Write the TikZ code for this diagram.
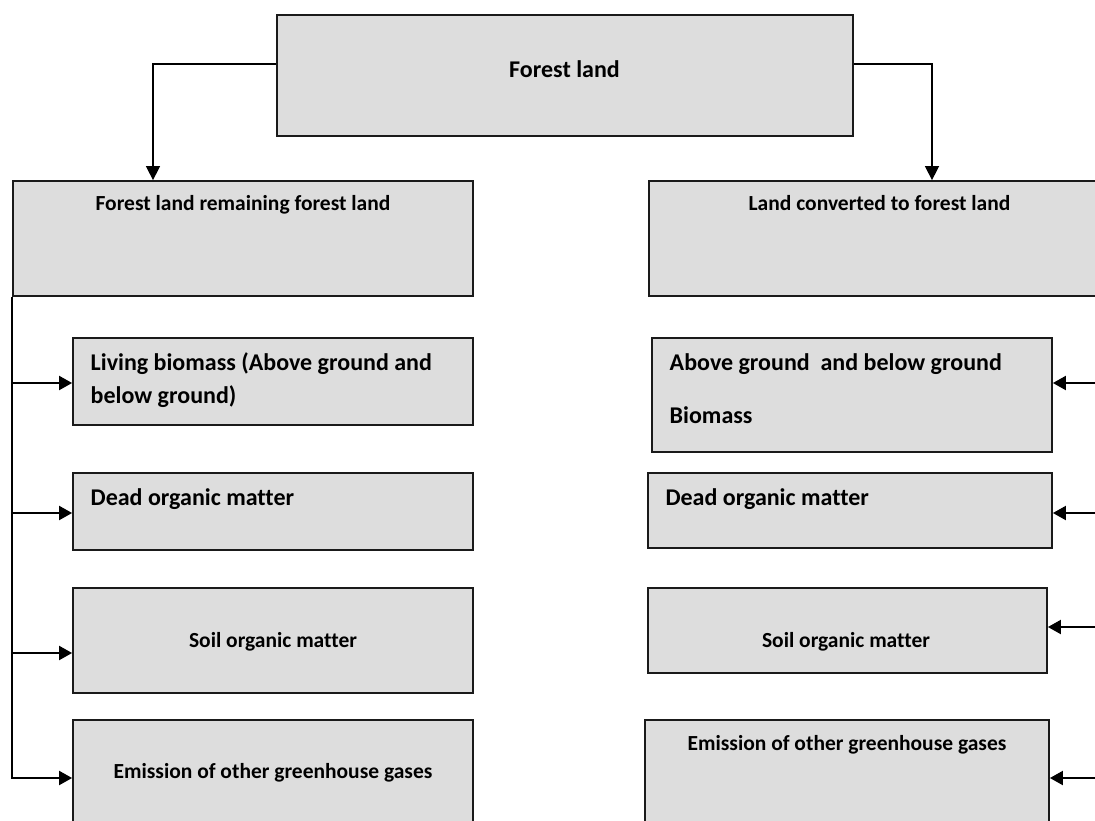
\documentclass[tikz,border=0pt]{standalone}
\usepackage{fontspec}
\setmainfont{Carlito}[Ligatures=NoCommon]
\usetikzlibrary{arrows.meta}
\definecolor{boxfill}{HTML}{DDDDDD}
\definecolor{boxline}{HTML}{1A1A1A}
\tikzset{
  box/.style={draw=boxline, line width=1.8pt, fill=boxfill, rectangle, inner sep=0pt},
  topconn/.style={line width=1.5pt, -{Triangle[length=14pt,width=14pt]}},
  sideconn/.style={line width=2pt, -{Triangle[length=13pt,width=14pt]}},
  lbl/.style={inner sep=0pt, font=\bfseries\fontsize{21.5}{25}\selectfont},
  lblbig/.style={inner sep=0pt, font=\bfseries\fontsize{24}{28}\selectfont},
}
\begin{document}
\begin{tikzpicture}[x=1pt, y=-1pt]
\useasboundingbox (0,0) rectangle (1095,820);
\fill[white] (0,0) rectangle (1095,820);
\clip (0,0) rectangle (1095,820);

% boxes
\node[box, minimum width=576pt, minimum height=121pt] (top) at (565,75.5) {};
\node[box, minimum width=460pt, minimum height=115pt] (L0) at (243,238.5) {};
\node[box, minimum width=461pt, minimum height=115pt] (R0) at (879.5,238.5) {};
\node[box, minimum width=400pt, minimum height=87pt] (B1) at (273,381.5) {};
\node[box, minimum width=400pt, minimum height=77pt] (B2) at (273,511.5) {};
\node[box, minimum width=400pt, minimum height=105pt] (B3) at (273,640.5) {};
\node[box, minimum width=400pt, minimum height=116pt] (B4) at (273,778) {};
\node[box, minimum width=400pt, minimum height=114pt] (RB1) at (852,395) {};
\node[box, minimum width=404pt, minimum height=75pt] (RB2) at (850,510.5) {};
\node[box, minimum width=399pt, minimum height=85pt] (RB3) at (847.5,630.5) {};
\node[box, minimum width=404pt, minimum height=116pt] (RB4) at (847,778) {};

% texts
\node[lblbig, anchor=base] (t-top) at (564.5,77) {Forest land};
\node[lbl, anchor=base] (t-L0) at (243,210) {Forest land remaining forest land};
\node[lbl, anchor=base] (t-R0) at (879.5,210) {Land converted to forest land};
\node[lblbig, anchor=base west] (t-B1a) at (90.5,370) {Living biomass (Above ground and};
\node[lblbig, anchor=base west] (t-B1b) at (90.5,403) {below ground)};
\node[lblbig, anchor=base west] (t-B2) at (90.5,505) {Dead organic matter};
\node[lbl, anchor=base] (t-B3) at (273,647) {Soil organic matter};
\node[lbl, anchor=base] (t-B4) at (273,778) {Emission of other greenhouse gases};
\node[lblbig, anchor=base west] (t-RB1a) at (669.5,370) {Above ground\ \ and below ground};
\node[lblbig, anchor=base west] (t-RB1b) at (669.5,423) {Biomass};
\node[lblbig, anchor=base west] (t-RB2) at (665.3,505) {Dead organic matter};
\node[lbl, anchor=base] (t-RB3) at (846,647) {Soil organic matter};
\node[lbl, anchor=base] (t-RB4) at (847,750) {Emission of other greenhouse gases};

% top connectors
\draw[topconn] ([yshift=11.5pt]top.west) -| ([xshift=-90pt]L0.north);
\draw[topconn] ([yshift=11.5pt]top.east) -| ([xshift=52.5pt]R0.north);

% left side
\coordinate (a1) at ([yshift=-1.5pt]B1.west);
\coordinate (a2) at ([yshift=-1.5pt]B2.west);
\coordinate (a3) at ([yshift=-12.5pt]B3.west);
\draw[sideconn] (L0.south west) |- (B4.west);
\draw[sideconn] (L0.south west |- a1) -- (a1);
\draw[sideconn] (L0.south west |- a2) -- (a2);
\draw[sideconn] (L0.south west |- a3) -- (a3);

% right side
\coordinate (b1) at ([yshift=12pt]RB1.east);
\coordinate (b2) at ([yshift=-2.5pt]RB2.east);
\coordinate (b3) at ([yshift=3.5pt]RB3.east);
\draw[sideconn] (R0.south east) |- (RB4.east);
\draw[sideconn] (R0.south east |- b1) -- (b1);
\draw[sideconn] (R0.south east |- b2) -- (b2);
\draw[sideconn] (R0.south east |- b3) -- (b3);
\end{tikzpicture}
\end{document}
